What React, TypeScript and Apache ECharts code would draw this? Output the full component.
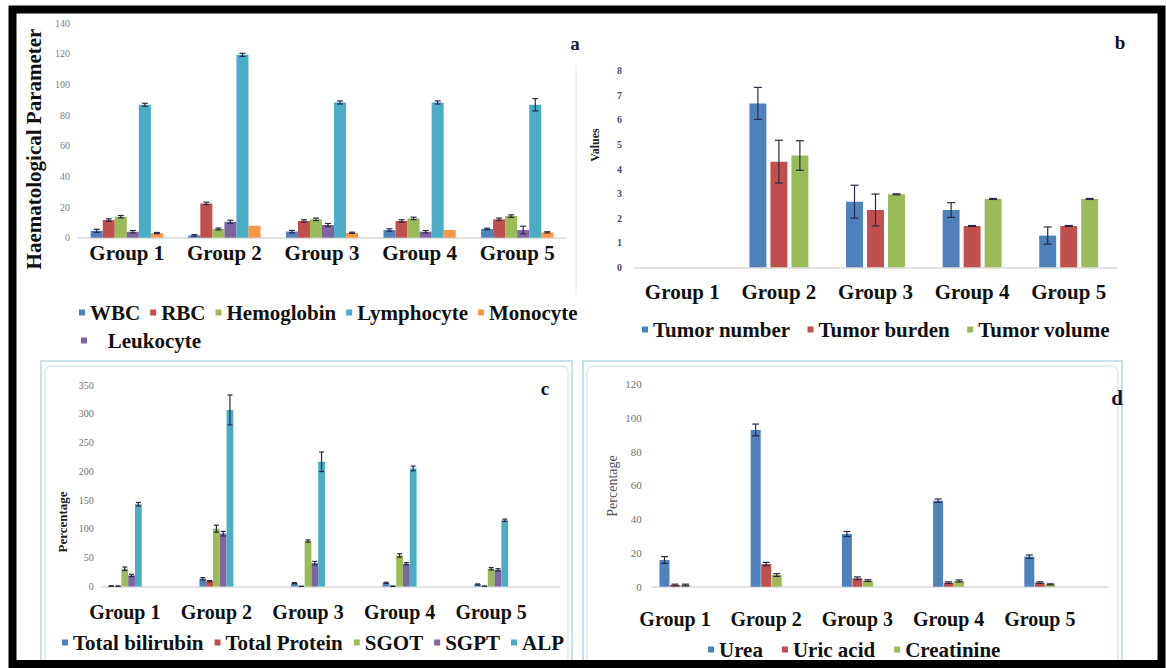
import React, { useEffect, useRef } from "react";
import * as echarts from "echarts";

const SERIF = "Liberation Serif";

const groups = ["Group 1", "Group 2", "Group 3", "Group 4", "Group 5"];

// Panel a – haematological parameters
const wbc = [4.5, 1.5, 4, 5, 5.7];
const rbc = [11.5, 22.4, 10.9, 10.9, 12];
const hemoglobin = [13.7, 5.7, 12, 12.6, 14.1];
const leukocyte = [3.9, 10.4, 8.3, 3.9, 5];
const lymphocyte = [86.8, 119.4, 88.3, 88.3, 86.8];
const monocyte = [3, 7.8, 3.2, 5, 3.5];
const wbcErr = [1, 0.5, 0.8, 0.8, 0.5];
const rbcErr = [0.8, 0.8, 0.8, 0.8, 0.8];
const hemoglobinErr = [0.8, 0.6, 0.8, 0.8, 0.8];
const leukocyteErr = [0.8, 1, 1, 0.8, 2.5];
const lymphocyteErr = [1, 1, 1, 1, 4];
const monocyteErr = [0.4, 0, 0.4, 0, 0.4];

// Panel b – tumour parameters
const tumorNumber = [0, 6.67, 2.67, 2.33, 1.29];
const tumorBurden = [0, 4.3, 2.33, 1.68, 1.68];
const tumorVolume = [0, 4.55, 2.97, 2.78, 2.78];
const tumorNumberErr = [0, 0.65, 0.67, 0.3, 0.35];
const tumorBurdenErr = [0, 0.87, 0.65, 0.02, 0.02];
const tumorVolumeErr = [0, 0.6, 0.02, 0.02, 0.02];

// Panel c – liver function
const bilirubin = [0.8, 13.4, 5.8, 6.4, 3.5];
const totalProtein = [0.5, 9.3, 0.3, 0.5, 0.5];
const sgot = [30.8, 100.5, 79, 54, 30.8];
const sgpt = [19.2, 91.8, 40.6, 39.5, 29];
const alp = [142.9, 306.6, 216.6, 205, 115];
const bilirubinErr = [0.5, 2, 1, 1, 1];
const totalProteinErr = [0.3, 1, 0.2, 0.3, 0.3];
const sgotErr = [3, 6, 2, 3, 2];
const sgptErr = [2, 4, 3, 2, 2];
const alpErr = [3, 26, 17, 4, 2];

// Panel d – kidney function
const urea = [15.8, 92.8, 31.2, 50.9, 17.8];
const uricAcid = [1, 13.4, 5, 2.4, 2.4];
const creatinine = [1, 6.9, 3.6, 3.4, 1.4];
const ureaErr = [2, 3.5, 1.5, 1, 1];
const uricAcidErr = [0.5, 1, 0.8, 0.5, 0.5];
const creatinineErr = [0.5, 0.8, 0.5, 0.6, 0.3];

const COL = {
  blue: "#4f81bd",
  red: "#c0504d",
  green: "#9bbb59",
  purple: "#8064a2",
  teal: "#4bacc6",
  orange: "#f79646",
};

function bar(name: string, data: number[], color: string, axis: number, barGap: string, barCategoryGap: string) {
  return {
    type: "bar",
    name,
    data,
    xAxisIndex: axis,
    yAxisIndex: axis,
    barGap,
    barCategoryGap,
    itemStyle: { color },
    z: 2,
  };
}

function errSeries(
  name: string,
  axis: number,
  vals: number[][],
  errs: number[][],
  barGap: string,
  barCategoryGap: string,
  cap: number
) {
  const data: number[][] = [];
  vals.forEach((arr, k) => {
    arr.forEach((v, i) => {
      const e = errs[k][i];
      if (e > 0) data.push([i, v, e, k]);
    });
  });
  const count = vals.length;
  return {
    type: "custom",
    name,
    xAxisIndex: axis,
    yAxisIndex: axis,
    z: 5,
    data,
    renderItem: (params: any, api: any) => {
      const cat = api.value(0);
      const v = api.value(1);
      const e = api.value(2);
      const k = api.value(3);
      const lay = api.barLayout({ count, barGap, barCategoryGap });
      const off = lay && lay[k] ? lay[k].offsetCenter : 0;
      const hi = api.coord([cat, v + e]);
      const lo = api.coord([cat, Math.max(0, v - e)]);
      const x = hi[0] + off;
      const style = { stroke: "#2a2a48", lineWidth: 1.2 };
      return {
        type: "group",
        children: [
          { type: "line", shape: { x1: x, y1: hi[1], x2: x, y2: lo[1] }, style },
          { type: "line", shape: { x1: x - cap, y1: hi[1], x2: x + cap, y2: hi[1] }, style },
          { type: "line", shape: { x1: x - cap, y1: lo[1], x2: x + cap, y2: lo[1] }, style },
        ],
      };
    },
  };
}

const legendText = { fontFamily: SERIF, fontWeight: "bold", fontSize: 21, color: "#111" };
function legend(data: string[], left: number, top: number, itemGap: number, extra: any = {}) {
  return {
    data,
    left,
    top,
    itemGap,
    padding: 0,
    itemWidth: 6,
    itemHeight: 6,
    icon: "rect",
    selectedMode: false,
    textStyle: legendText,
    ...extra,
  };
}

function catAxis(grid: number, showLabel: boolean, showLine: boolean, margin: number, fontSize = 21) {
  return {
    type: "category",
    gridIndex: grid,
    data: groups,
    axisTick: { show: false },
    axisLine: { show: showLine, lineStyle: { color: "#d9d9d9", width: 1.5 } },
    axisLabel: {
      show: showLabel,
      interval: 0,
      hideOverlap: false,
      margin,
      fontFamily: SERIF,
      fontWeight: "bold",
      fontSize,
      color: "#111",
    },
  };
}

function valAxis(grid: number, max: number, interval: number, show: boolean, margin: number, labelStyle: any = {}) {
  return {
    type: "value",
    gridIndex: grid,
    min: 0,
    max,
    interval,
    show,
    splitLine: { show: false },
    axisLine: { show: false },
    axisTick: { show: false },
    axisLabel: {
      margin,
      fontFamily: SERIF,
      fontSize: 10,
      color: "#808080",
      ...labelStyle,
    },
  };
}

function rotText(text: string, x: number, y: number, size: number, weight: string, color: string) {
  return {
    type: "text",
    x,
    y,
    rotation: Math.PI / 2,
    style: {
      text,
      fontFamily: SERIF,
      fontSize: size,
      fontWeight: weight,
      fill: color,
      align: "center",
      verticalAlign: "middle",
    },
    z: 10,
  };
}

function letter(text: string, x: number, y: number, size: number, color: string) {
  return {
    type: "text",
    x,
    y,
    style: {
      text,
      fontFamily: SERIF,
      fontSize: size,
      fontWeight: "bold",
      fill: color,
      align: "center",
      verticalAlign: "middle",
    },
    z: 10,
  };
}

export default function App() {
  const ref = useRef<HTMLDivElement>(null);
  useEffect(() => {
    if (!ref.current) return;
    const chart = echarts.init(ref.current, undefined, { renderer: "svg" });
    const gA = ["0%", "26%"];
    const gB = ["24%", "39%"];
    const gC = ["0%", "63%"];
    const gD = ["5%", "66%"];
    chart.setOption({
      animation: false,
      backgroundColor: "#ffffff",
      textStyle: { fontFamily: SERIF },
      grid: [
        { left: 78, top: 23.3, width: 488, height: 214.4 },
        { left: 634, top: 70.7, width: 483, height: 196.6 },
        { left: 79, top: 385, width: 458, height: 201.5 },
        { left: 101.7, top: 385, width: 458, height: 201.5 },
        { left: 629.4, top: 384, width: 456, height: 202.7 },
        { left: 651.7, top: 384, width: 456, height: 202.7 },
      ],
      xAxis: [
        catAxis(0, true, true, 5),
        catAxis(1, true, true, 14),
        catAxis(2, true, false, 15, 20),
        catAxis(3, false, true, 15),
        catAxis(4, true, false, 22, 20),
        catAxis(5, false, true, 22),
      ],
      yAxis: [
        valAxis(0, 140, 20, true, 8),
        valAxis(1, 8, 1, true, 12, { fontWeight: "bold", color: "#4a4a6e" }),
        valAxis(2, 350, 50, false, 8),
        valAxis(3, 350, 50, true, 8, { color: "#707070" }),
        valAxis(4, 120, 20, false, 10),
        valAxis(5, 120, 20, true, 10, { color: "#707070", fontSize: 11 }),
      ],
      legend: [
        legend(["WBC", "RBC", "Hemoglobin", "Lymphocyte", "Monocyte"], 79, 302, 10),
        legend(["Leukocyte"], 81, 330, 10, { formatter: "   {name}" }),
        legend(["Tumor number", "Tumor burden", "Tumor volume"], 642, 319, 17),
        legend(["Total bilirubin", "Total Protein", "SGOT", "SGPT", "ALP"], 62, 632, 11),
        legend(["Urea", "Uric acid", "Creatinine"], 708, 639, 19),
      ],
      series: [
        bar("WBC", wbc, COL.blue, 0, gA[0], gA[1]),
        bar("RBC", rbc, COL.red, 0, gA[0], gA[1]),
        bar("Hemoglobin", hemoglobin, COL.green, 0, gA[0], gA[1]),
        bar("Leukocyte", leukocyte, COL.purple, 0, gA[0], gA[1]),
        bar("Lymphocyte", lymphocyte, COL.teal, 0, gA[0], gA[1]),
        bar("Monocyte", monocyte, COL.orange, 0, gA[0], gA[1]),
        errSeries(
          "errA",
          0,
          [wbc, rbc, hemoglobin, leukocyte, lymphocyte, monocyte],
          [wbcErr, rbcErr, hemoglobinErr, leukocyteErr, lymphocyteErr, monocyteErr],
          gA[0],
          gA[1],
          3
        ),
        bar("Tumor number", tumorNumber, COL.blue, 1, gB[0], gB[1]),
        bar("Tumor burden", tumorBurden, COL.red, 1, gB[0], gB[1]),
        bar("Tumor volume", tumorVolume, COL.green, 1, gB[0], gB[1]),
        errSeries(
          "errB",
          1,
          [tumorNumber, tumorBurden, tumorVolume],
          [tumorNumberErr, tumorBurdenErr, tumorVolumeErr],
          gB[0],
          gB[1],
          4
        ),
        bar("Total bilirubin", bilirubin, COL.blue, 2, gC[0], gC[1]),
        bar("Total Protein", totalProtein, COL.red, 2, gC[0], gC[1]),
        bar("SGOT", sgot, COL.green, 2, gC[0], gC[1]),
        bar("SGPT", sgpt, COL.purple, 2, gC[0], gC[1]),
        bar("ALP", alp, COL.teal, 2, gC[0], gC[1]),
        errSeries(
          "errC",
          2,
          [bilirubin, totalProtein, sgot, sgpt, alp],
          [bilirubinErr, totalProteinErr, sgotErr, sgptErr, alpErr],
          gC[0],
          gC[1],
          2.5
        ),
        bar("Urea", urea, COL.blue, 4, gD[0], gD[1]),
        bar("Uric acid", uricAcid, COL.red, 4, gD[0], gD[1]),
        bar("Creatinine", creatinine, COL.green, 4, gD[0], gD[1]),
        errSeries(
          "errD",
          4,
          [urea, uricAcid, creatinine],
          [ureaErr, uricAcidErr, creatinineErr],
          gD[0],
          gD[1],
          3.5
        ),
      ],
      graphic: [
        // panel c & d chart-object frames
        { type: "rect", shape: { x: 41, y: 361, width: 531, height: 320 }, style: { fill: "none", stroke: "#c6e1e8", lineWidth: 2 }, z: 1 },
        { type: "rect", shape: { x: 45, y: 366, width: 523, height: 320, r: 6 }, style: { fill: "none", stroke: "#d8eaef", lineWidth: 1.5 }, z: 1 },
        { type: "rect", shape: { x: 583, y: 361, width: 539, height: 320 }, style: { fill: "none", stroke: "#c6e1e8", lineWidth: 2 }, z: 1 },
        { type: "rect", shape: { x: 587, y: 366, width: 531, height: 320, r: 6 }, style: { fill: "none", stroke: "#d8eaef", lineWidth: 1.5 }, z: 1 },
        // faint separator of panel b
        { type: "line", shape: { x1: 576, y1: 65, x2: 576, y2: 295 }, style: { stroke: "#e4e4e4", lineWidth: 1 }, z: 1 },
        // axis titles
        rotText("Haematological Parameter", 34, 149, 21, "bold", "#111"),
        rotText("Values", 595, 145, 12, "bold", "#222"),
        rotText("Percentage", 62, 522, 13, "bold", "#222"),
        rotText("Percentage", 612, 486, 14, "normal", "#555"),
        // panel letters
        letter("a", 575, 43, 19, "#1b1b3a"),
        letter("b", 1120, 42, 19, "#111"),
        letter("c", 545, 388, 19, "#111"),
        letter("d", 1117, 398, 21, "#111133"),
        // outer black frame
        { type: "rect", shape: { x: 12.5, y: 9.5, width: 1149, height: 654.5 }, style: { fill: "none", stroke: "#000", lineWidth: 8 }, z: 20 },
      ],
    });
    return () => chart.dispose();
  }, []);
  return (
    <div
      ref={ref}
      style={{ position: "absolute", left: 0, top: 0, width: 1166, height: 668, background: "#fff" }}
    />
  );
}
